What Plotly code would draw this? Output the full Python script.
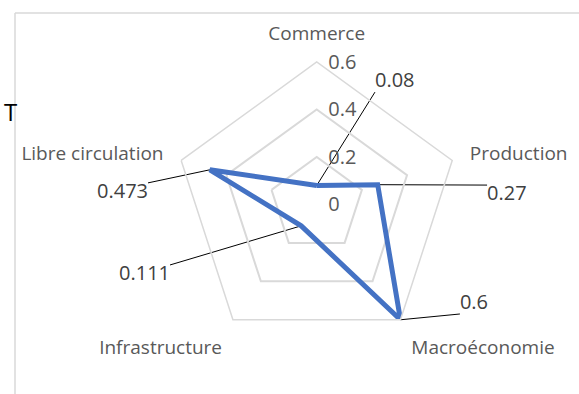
import plotly.graph_objects as go

categories = ["Commerce", "Production", "Macroéconomie", "Infrastructure", "Libre circulation"]
values = [0.08, 0.27, 0.6, 0.111, 0.473]
value_labels = ["0.08", "0.27", "0.6", "0.111", "0.473"]
radial_ticks = [0, 0.2, 0.4, 0.6]
radial_ticktext = ["0", "0.2", "0.4", "0.6"]

# label placement (layout): leader end in polar coords (r, theta deg clockwise from top)
label_r = [0.533, 0.722, 0.759, 0.668, 0.716]
label_theta = [27.4, 83.5, 127.4, 247.6, 277.3]
label_pos = ["top right", "bottom right", "top right", "bottom left", "bottom left"]

W, H = 579, 394
cx, cy, R = 316.7, 204.5, 142.5
R2 = 189.0
rmax = 0.6
rmax2 = rmax * R2 / R

def dom(c, r, size, flip=False):
    if flip:
        return [(size - c - r) / size, (size - c + r) / size]
    return [(c - r) / size, (c + r) / size]

n = len(categories)
theta_deg = [i * 360.0 / n for i in range(n)]

fig = go.Figure()

# leader lines + value labels (drawn in an invisible overlay polar below the radar)
for i in range(n):
    fig.add_trace(go.Scatterpolar(
        r=[values[i], label_r[i]], theta=[theta_deg[i], label_theta[i]],
        mode="lines", line=dict(color="#000000", width=1),
        subplot="polar", showlegend=False, hoverinfo="skip", cliponaxis=False))
    fig.add_trace(go.Scatterpolar(
        r=[label_r[i]], theta=[label_theta[i]], mode="text",
        text=[value_labels[i]], textposition=label_pos[i],
        textfont=dict(family="Open Sans", size=20, color="#404040"),
        subplot="polar", showlegend=False, hoverinfo="skip", cliponaxis=False))

fig.add_trace(go.Scatterpolar(
    r=values + [values[0]], theta=categories + [categories[0]],
    mode="lines", line=dict(color="#4472C4", width=5),
    subplot="polar2", showlegend=False))

fig.update_layout(
    width=W, height=H, autosize=False,
    margin=dict(l=0, r=0, t=0, b=0),
    paper_bgcolor="white",
    font=dict(family="Open Sans", color="#595959"),
    polar=dict(
        domain=dict(x=dom(cx, R2, W), y=dom(cy, R2, H, True)),
        bgcolor="rgba(0,0,0,0)",
        angularaxis=dict(type="linear", rotation=90, direction="clockwise", visible=False),
        radialaxis=dict(range=[0, rmax2], visible=False),
    ),
    polar2=dict(
        domain=dict(x=dom(cx, R, W), y=dom(cy, R, H, True)),
        bgcolor="rgba(0,0,0,0)",
        gridshape="linear",
        angularaxis=dict(rotation=90, direction="clockwise", showgrid=False,
                         showline=True, linecolor="#d9d9d9", linewidth=1.5,
                         ticks="outside", ticklen=14, tickcolor="rgba(0,0,0,0)",
                         tickfont=dict(family="Open Sans", size=19, color="#595959")),
        radialaxis=dict(range=[0, rmax], tickvals=radial_ticks,
                        ticktext=radial_ticktext, tickangle=90,
                        angle=90, showline=False,
                        ticks="outside", ticklen=7, tickcolor="rgba(0,0,0,0)",
                        gridcolor="#d9d9d9", gridwidth=1.5,
                        tickfont=dict(family="Open Sans", size=20, color="#595959")),
    ),
    shapes=[
        dict(type="line", xref="paper", yref="paper", x0=15 / W, x1=1, y0=(H - 13) / H, y1=(H - 13) / H,
             line=dict(color="#d9d9d9", width=1.5)),
        dict(type="line", xref="paper", yref="paper", x0=15 / W, x1=15 / W, y0=0, y1=(H - 13) / H,
             line=dict(color="#d9d9d9", width=1.5)),
    ],
    annotations=[
        dict(text="T", xref="paper", yref="paper", x=10 / W, y=(H - 111) / H,
             xanchor="center", yanchor="middle",
             showarrow=False, font=dict(family="Open Sans", size=24, color="#000000"))
    ],
)

fig.write_html("out.html")
